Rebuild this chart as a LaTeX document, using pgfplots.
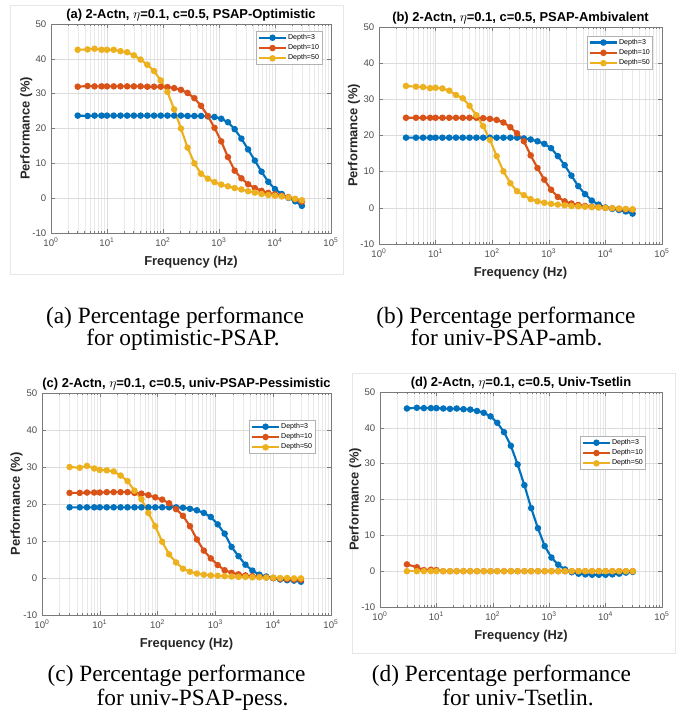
\documentclass[border=0pt]{standalone}
\usepackage{fontspec}
\setmainfont{Liberation Sans}
\newfontfamily\capfont{Liberation Serif}
\usepackage{pgfplots}
\usepackage{pgfplotstable}
\pgfplotsset{compat=1.18}
\definecolor{mblue}{HTML}{0072BD}
\definecolor{mred}{HTML}{D95319}
\definecolor{myellow}{HTML}{EDB120}
\definecolor{tickgray}{HTML}{4D4D4D}
\definecolor{axisgray}{HTML}{7A7A7A}
\definecolor{gridgray}{HTML}{DCDCDC}
\definecolor{minorgray}{HTML}{E9E9E9}
\definecolor{framegray}{HTML}{E6E6E6}

% x (Hz), Depth=3, Depth=10, Depth=50
\pgfplotstableread{
x d3 d10 d50
3 23.7 32.0 42.6
4.5 23.6 32.2 42.7
6 23.7 32.1 42.9
8 23.7 32.1 42.6
10 23.7 32.1 42.6
13.2 23.7 32.1 42.6
17.4 23.7 32.1 42.2
22.9 23.7 32.1 41.9
30.2 23.7 32.1 41.0
39.8 23.7 32.1 39.8
52.5 23.7 32.0 38.3
69.2 23.7 32.0 36.5
91.2 23.7 32.0 33.8
120 23.7 31.9 30.5
158 23.7 31.6 25.5
209 23.7 31.1 20.0
275 23.6 30.2 14.5
363 23.6 28.7 10.0
479 23.6 26.5 7.0
631 23.5 23.6 5.6
832 23.3 20.2 4.6
1096 22.8 16.3 3.9
1445 21.8 11.8 3.4
1905 19.8 7.9 2.9
2512 17.1 5.7 2.5
3311 14.0 4.0 2.0
4365 10.8 2.9 1.6
5754 7.6 2.1 1.2
7586 4.7 1.5 0.9
10000 2.6 1.1 0.7
13183 1.2 0.7 0.5
17378 0.1 0.3 0.2
22909 -0.9 -0.3 -0.2
30200 -2.2 -1.0 -0.6
}\tabA

\pgfplotstableread{
x d3 d10 d50
3 19.4 24.9 33.7
4.5 19.4 24.9 33.5
6 19.4 24.9 33.4
8 19.4 24.9 33.1
10 19.4 24.9 33.2
13.2 19.4 24.9 33.0
17.4 19.4 24.9 32.4
22.9 19.4 24.9 31.2
30.2 19.4 24.9 30.3
39.8 19.4 24.9 28.2
52.5 19.4 24.9 25.6
69.2 19.4 24.8 22.6
91.2 19.4 24.6 18.8
120 19.4 24.3 14.3
158 19.4 23.6 10.1
209 19.4 22.3 6.8
275 19.4 20.6 4.6
363 19.2 18.4 3.5
479 18.9 14.5 2.4
631 18.4 11.0 1.8
832 17.7 7.8 1.4
1096 16.5 5.0 1.1
1445 14.3 3.0 0.9
1905 11.8 1.8 0.7
2512 8.9 1.2 0.5
3311 6.0 0.8 0.4
4365 3.8 0.5 0.3
5754 2.0 0.3 0.2
7586 0.9 0.2 0.1
10000 0.1 0.0 0.0
13183 -0.3 -0.1 -0.1
17378 -0.6 -0.3 -0.2
22909 -1.0 -0.4 -0.3
30200 -1.6 -0.5 -0.4
}\tabB

\pgfplotstableread{
x d3 d10 d50
3 19.1 23.0 30.0
4.5 19.1 23.0 29.8
6 19.1 23.1 30.3
8 19.1 23.1 29.6
10 19.1 23.1 29.2
13.2 19.1 23.2 29.1
17.4 19.1 23.2 28.8
22.9 19.1 23.2 27.7
30.2 19.1 23.2 26.2
39.8 19.1 23.0 23.6
52.5 19.1 22.8 21.3
69.2 19.1 22.4 17.6
91.2 19.1 21.8 14.0
120 19.1 21.2 9.8
158 19.1 20.2 6.4
209 19.1 18.6 4.2
275 19.0 16.8 2.5
363 18.7 14.0 1.7
479 18.3 10.4 1.2
631 17.6 7.4 0.9
832 16.5 5.3 0.7
1096 14.5 3.5 0.6
1445 12.0 2.1 0.5
1905 8.4 1.4 0.4
2512 5.9 1.0 0.3
3311 3.6 0.7 0.3
4365 2.0 0.5 0.2
5754 0.9 0.3 0.2
7586 0.4 0.2 0.1
10000 0.0 0.0 0.1
13183 -0.4 -0.2 0.0
17378 -0.6 -0.3 0.0
22909 -0.7 -0.4 -0.1
30200 -1.0 -0.5 -0.1
}\tabC

\pgfplotstableread{
x d3 d10 d50
3 45.4 1.9 0.0
4.5 45.6 1.1 0.0
6 45.5 0.3 0.0
8 45.5 0.4 0.0
10 45.5 0.3 0.0
13.2 45.4 0.0 0.0
17.4 45.3 0.0 0.0
22.9 45.4 0.0 0.0
30.2 45.2 0.0 0.0
39.8 45.1 0.0 0.0
52.5 44.7 0.0 0.0
69.2 44.2 0.0 0.0
91.2 43.2 0.0 0.0
120 41.4 0.0 0.0
158 38.8 0.0 0.0
209 35.0 0.0 0.0
275 29.8 0.0 0.0
363 24.0 0.0 0.0
479 17.6 0.0 0.0
631 12.0 0.0 0.0
832 7.0 0.0 0.0
1096 3.8 0.0 0.0
1445 1.8 0.0 0.0
1905 0.5 0.0 0.0
2512 -0.3 0.0 0.0
3311 -0.7 0.0 0.0
4365 -0.9 0.0 0.0
5754 -1.0 0.0 0.0
7586 -1.0 0.0 0.0
10000 -1.0 0.0 0.0
13183 -0.9 0.0 0.0
17378 -0.7 0.0 0.0
22909 -0.4 0.0 0.0
30200 -0.2 0.0 0.0
}\tabD

\pgfplotsset{
  legend image code/.code={\draw[#1, mark repeat=2, mark phase=2] plot coordinates {(0pt,0pt) (10pt,0pt) (20pt,0pt)};},
  every axis plot/.append style={line width=1.6pt, mark=*, mark size=1.6pt, mark options={solid}},
  every axis legend/.append style={draw=black!30, fill=white, font=\fontsize{5.3}{6}\selectfont,
      inner sep=1.2pt, row sep=0.6pt, nodes={inner sep=0.9pt}, anchor=north east},
  legend cell align=left,
}

% shared axis options, written inline through a wrapper
\newcommand{\beginpanel}[1]{\begin{axis}[
    scale only axis, xmode=log,
    xmin=1, xmax=1e5, ymin=-10, ymax=50,
    xtick={1,10,100,1000,10000,100000},
    xticklabels={10\textsuperscript{0},10\textsuperscript{1},10\textsuperscript{2},10\textsuperscript{3},10\textsuperscript{4},10\textsuperscript{5}},
    minor xtick={2,3,4,5,6,7,8,9,20,30,40,50,60,70,80,90,200,300,400,500,600,700,800,900,2000,3000,4000,5000,6000,7000,8000,9000,20000,30000,40000,50000,60000,70000,80000,90000},
    ytick={-10,0,10,20,30,40,50},
    yticklabel style={/pgf/number format/assume math mode=true},
    tick label style={font=\fontsize{7.2}{8}\selectfont, text=tickgray},
    tick align=inside, major tick length=3pt, minor tick length=1.6pt,
    tick style={axisgray, line width=0.4pt},
    axis line style={axisgray, line width=0.5pt},
    xmajorgrids, xminorgrids, ymajorgrids,
    major grid style={gridgray, line width=0.4pt},
    minor grid style={minorgray, line width=0.3pt},
    title style={font=\bfseries\fontsize{9.7}{11}\selectfont, at={(axis description cs:0.5,1)}, anchor=base, yshift=-2.2pt},
    xlabel={Frequency (Hz)}, ylabel={Performance (\%)},
    label style={font=\bfseries\fontsize{9.7}{11}\selectfont, text=black!85},
    xlabel style={at={(axis description cs:0.5,0)}, anchor=base, yshift=-24pt},
    ylabel style={at={(axis description cs:-0.088,0.5)}, anchor=center},
    anchor=south west, #1]}

\begin{document}
\begin{tikzpicture}
\useasboundingbox (0,0) rectangle (508.5pt,-534pt);
\draw[framegray, line width=0.6pt] (7.5pt,-3.75pt) rectangle (257.25pt,-205.5pt);
\draw[framegray, line width=0.6pt] (264pt,-279.75pt) rectangle (506.25pt,-489.75pt);

\beginpanel{at={(38.25pt,-174.75pt)}, width=210pt, height=156.75pt,
  title={(a) 2-Actn, $\eta$=0.1, c=0.5, PSAP-Optimistic},
  legend style={at={(0.968,0.966)}}}
\addplot[mblue] table[x=x, y=d3] {\tabA};
\addplot[mred] table[x=x, y=d10] {\tabA};
\addplot[myellow] table[x=x, y=d50] {\tabA};
\legend{Depth=3,Depth=10,Depth=50}
\end{axis}

\beginpanel{at={(284.25pt,-183pt)}, width=212.25pt, height=162.75pt,
  title={(b) 2-Actn, $\eta$=0.1, c=0.5, PSAP-Ambivalent},
  legend style={at={(0.968,0.959)}}}
\addplot[mblue] table[x=x, y=d3] {\tabB};
\addplot[mred] table[x=x, y=d10] {\tabB};
\addplot[myellow] table[x=x, y=d50] {\tabB};
\legend{Depth=3,Depth=10,Depth=50}
\end{axis}

\beginpanel{at={(31.5pt,-461.25pt)}, width=216.75pt, height=166.5pt,
  title={(c) 2-Actn, $\eta$=0.1, c=0.5, univ-PSAP-Pessimistic},
  legend style={at={(0.945,0.878)}}}
\addplot[mblue] table[x=x, y=d3] {\tabC};
\addplot[mred] table[x=x, y=d10] {\tabC};
\addplot[myellow] table[x=x, y=d50] {\tabC};
\legend{Depth=3,Depth=10,Depth=50}
\end{axis}

\beginpanel{at={(285pt,-455.25pt)}, width=211.5pt, height=161.25pt,
  title={(d) 2-Actn, $\eta$=0.1, c=0.5, Univ-Tsetlin},
  legend style={at={(0.943,0.795)}}}
\addplot[mblue] table[x=x, y=d3] {\tabD};
\addplot[mred] table[x=x, y=d10] {\tabD};
\addplot[myellow] table[x=x, y=d50] {\tabD};
\legend{Depth=3,Depth=10,Depth=50}
\end{axis}

\begin{scope}[every node/.style={font=\capfont\fontsize{17.5}{20}\selectfont, anchor=base, inner sep=0pt}]
\node at (131.25pt,-242.25pt) {(a) Percentage performance};
\node at (137.25pt,-258.75pt) {for optimistic-PSAP.};
\node at (379.5pt,-242.25pt) {(b) Percentage performance};
\node at (379.9pt,-258.75pt) {for univ-PSAP-amb.};
\node at (132.4pt,-510.75pt) {(c) Percentage performance};
\node at (144.4pt,-528.75pt) {for univ-PSAP-pess.};
\node at (376.1pt,-510.75pt) {(d) Percentage performance};
\node at (388.5pt,-528.75pt) {for univ-Tsetlin.};
\end{scope}
\end{tikzpicture}
\end{document}
